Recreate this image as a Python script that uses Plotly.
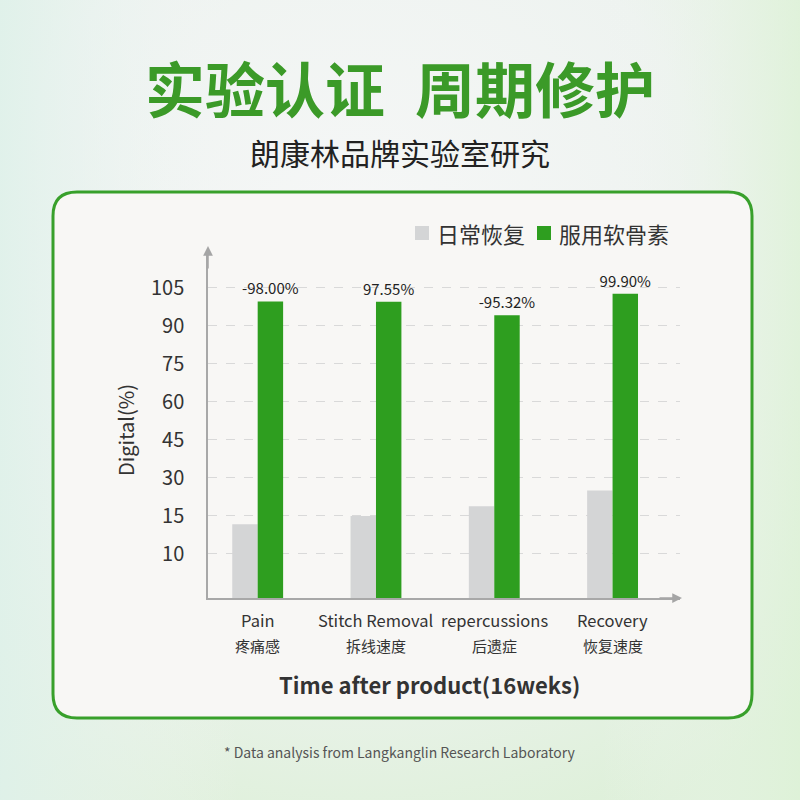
import base64
import numpy as np
import plotly.graph_objects as go

# data
categories_en = ["Pain", "Stitch Removal", "repercussions", "Recovery"]
categories_cn = ["疼痛感", "拆线速度", "后遗症", "恢复速度"]
daily_recovery = [13.9, 15.0, 18.8, 25.0]
chondroitin = [99.6, 99.5, 94.1, 102.6]
change_labels = ["-98.00%", "97.55%", "-95.32%", "99.90%"]
tick_labels = [10, 15, 30, 45, 60, 75, 90, 105]
series_names = ["日常恢复", "服用软骨素"]
series_colors = ["#d4d5d6", "#2e9e1f"]

W = H = 800
FONT = "Noto Sans CJK SC"

# the value axis is not linear: ticks are evenly spaced whatever their value
scale_vals = [0] + tick_labels
scale_pos = [0] + [1.158 + i for i in range(len(tick_labels))]


def to_axis(values):
    return list(np.interp(values, scale_vals, scale_pos))


def px(x, y):
    # pixel position -> paper coordinates (margins are zero)
    return x / W, 1 - y / H


def rounded_rect(x0, y0, x1, y1, r):
    a = px(x0, y0)
    b = px(x1, y1)
    rx = r / W
    ry = r / H
    return (f"M {a[0]+rx},{a[1]} L {b[0]-rx},{a[1]} Q {b[0]},{a[1]} {b[0]},{a[1]-ry} "
            f"L {b[0]},{b[1]+ry} Q {b[0]},{b[1]} {b[0]-rx},{b[1]} "
            f"L {a[0]+rx},{b[1]} Q {a[0]},{b[1]} {a[0]},{b[1]+ry} "
            f"L {a[0]},{a[1]-ry} Q {a[0]},{a[1]} {a[0]+rx},{a[1]} Z")


def label(x, y, text, size, color="#333333", xanchor="center", **kw):
    return dict(x=x / W, y=1 - y / H, xref="paper", yref="paper", text=text,
                showarrow=False, xanchor=xanchor, yanchor="middle",
                font=dict(family=FONT, size=size, color=color), **kw)


bg_svg = """<svg xmlns='http://www.w3.org/2000/svg' width='800' height='800'>
<defs>
<radialGradient id='g' cx='0.45' cy='0.3' r='0.8'>
<stop offset='0' stop-color='#f6f7f7'/>
<stop offset='0.55' stop-color='#eef3f0'/>
<stop offset='1' stop-color='#ddf0d8'/>
</radialGradient>
<linearGradient id='h' x1='0' y1='0' x2='1' y2='0'>
<stop offset='0' stop-color='#dff1ea' stop-opacity='0.9'/>
<stop offset='0.3' stop-color='#f3f5f5' stop-opacity='0'/>
<stop offset='0.75' stop-color='#f3f5f5' stop-opacity='0'/>
<stop offset='1' stop-color='#def2d8' stop-opacity='0.8'/>
</linearGradient>
</defs>
<rect width='800' height='800' fill='url(#g)'/>
<rect width='800' height='800' fill='url(#h)'/>
</svg>"""
bg_src = "data:image/svg+xml;base64," + base64.b64encode(bg_svg.encode()).decode()

fig = go.Figure()

fig.add_trace(go.Bar(
    x=categories_en, y=to_axis(daily_recovery), name=series_names[0],
    marker=dict(color=series_colors[0], line=dict(width=0)),
    hoverinfo="skip",
))
fig.add_trace(go.Bar(
    x=categories_en, y=to_axis(chondroitin), name=series_names[1],
    marker=dict(color=series_colors[1], line=dict(width=0)),
    text=change_labels, textposition="outside", cliponaxis=False,
    constraintext="none",
    textfont=dict(family=FONT, size=15, color="#222222"),
    hoverinfo="skip",
))

annotations = []
for i, (en, cn) in enumerate(zip(categories_en, categories_cn)):
    annotations.append(dict(x=i, y=1 - 620 / H, xref="x", yref="paper", text=en,
                            showarrow=False, xanchor="center", yanchor="middle",
                            font=dict(family=FONT, size=16.5, color="#333333")))
    annotations.append(dict(x=i, y=1 - 645 / H, xref="x", yref="paper", text=cn,
                            showarrow=False, xanchor="center", yanchor="middle",
                            font=dict(family=FONT, size=15, color="#333333")))

# axis arrow heads
annotations.append(dict(x=208 / W, y=1 - 246 / H, xref="paper", yref="paper", text="",
                        showarrow=True, ax=0, ay=24, arrowhead=2, arrowsize=1.3,
                        arrowwidth=1.5, arrowcolor="#a5a5a5"))
annotations.append(dict(x=682 / W, y=1 - 598 / H, xref="paper", yref="paper", text="",
                        showarrow=True, ax=-24, ay=0, arrowhead=2, arrowsize=1.3,
                        arrowwidth=1.5, arrowcolor="#a5a5a5"))

annotations += [
    label(400, 86, "<b>实验认证\u2002周期修护</b>", 60, "#3b9a28"),
    label(400, 152, "朗康林品牌实验室研究", 30, "#222222"),
    label(125, 430, "Digital(%)", 20, textangle=-90),
    label(429, 684, "<b>Time after product(16weks)</b>", 22),
    label(400, 752, "* Data analysis from Langkanglin Research Laboratory", 14, "#555555"),
]

# hand-drawn legend
shapes = [dict(type="path", path=rounded_rect(53, 192, 752, 718, 24),
               xref="paper", yref="paper", fillcolor="#f8f7f5",
               line=dict(color="#38a02b", width=3), layer="below")]
legend_x = [415, 537]
for lx, name, color in zip(legend_x, series_names, series_colors):
    x0, y0 = px(lx, 226)
    x1, y1 = px(lx + 14, 240)
    shapes.append(dict(type="rect", xref="paper", yref="paper", x0=x0, y0=y0, x1=x1, y1=y1,
                       fillcolor=color, line=dict(width=0)))
    annotations.append(label(lx + 20, 233, name, 22, xanchor="left"))

fig.update_layout(
    width=W, height=H,
    margin=dict(l=0, r=0, t=0, b=0),
    paper_bgcolor="#f0f4f1",
    plot_bgcolor="rgba(0,0,0,0)",
    barmode="group", bargap=0.57, bargroupgap=0,
    font=dict(family=FONT, color="#333333"),
    showlegend=False,
    images=[dict(source=bg_src, xref="paper", yref="paper", x=0, y=1,
                 sizex=1, sizey=1, sizing="stretch", layer="below")],
    shapes=shapes,
    annotations=annotations,
    xaxis=dict(domain=[208 / W, 680 / W], range=[-0.42, 3.57], showticklabels=False,
               showline=True, linecolor="#a8a8a8", linewidth=1.5, showgrid=False,
               fixedrange=True),
    yaxis=dict(domain=[1 - 598 / H, 1 - 250 / H], range=[0, 9.15],
               tickvals=scale_pos[1:], ticktext=[str(t) for t in tick_labels],
               tickfont=dict(family=FONT, size=20, color="#333333"),
               ticks="outside", ticklen=18, tickcolor="rgba(0,0,0,0)",
               showline=True, linecolor="#a8a8a8", linewidth=1.5,
               showgrid=True, gridcolor="#d9d9d9", griddash="dash", gridwidth=1,
               zeroline=False, fixedrange=True),
)

fig.write_html("out.html", config={"displayModeBar": False},
               post_script="document.body.style.margin='0';"
                           "document.body.style.overflow='hidden';")
